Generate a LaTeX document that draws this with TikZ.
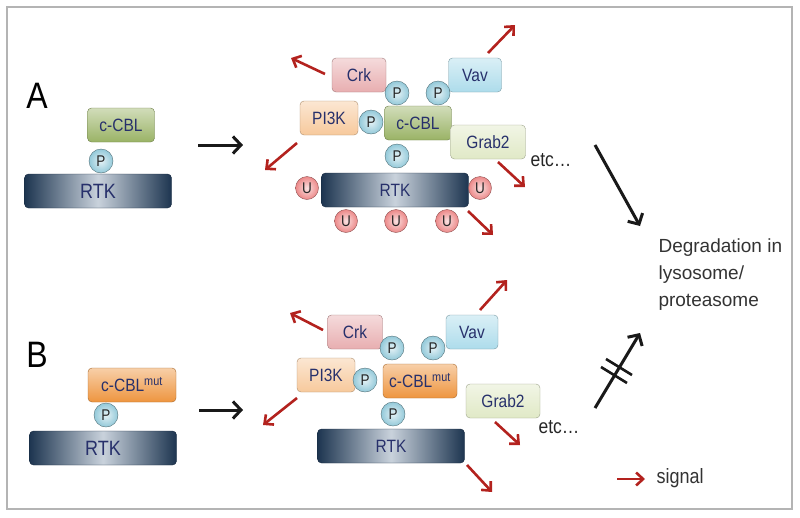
\documentclass[tikz,border=0pt]{standalone}
\usepackage{fontspec}
\setmainfont{Liberation Sans}
\usetikzlibrary{arrows.meta}

\definecolor{cblGreen}{HTML}{9AB366}
\definecolor{crkPink}{HTML}{E8AEB0}
\definecolor{vavBlue}{HTML}{ADDCEB}
\definecolor{piPeach}{HTML}{F7C99C}
\definecolor{grabPale}{HTML}{E0E9C6}
\definecolor{mutOrange}{HTML}{EE953F}
\definecolor{pTeal}{HTML}{93C9D9}
\definecolor{uRed}{HTML}{EC8888}
\definecolor{rtkNavy}{HTML}{1D3550}
\definecolor{rtkLight}{HTML}{C9D2DC}
\definecolor{labelNavy}{HTML}{27306B}
\definecolor{signalRed}{HTML}{B3221E}
\definecolor{frameGray}{HTML}{B4B4B4}

\newcommand{\tallLabel}[1]{\scalebox{1}[1.15]{#1}}

\begin{document}
\begin{tikzpicture}
[x=1pt,y=-1pt,
  boxDecorate/.style={shape=rectangle,rounded corners=4pt,draw=#1!70!black,thin,
    top color=#1!45!white,bottom color=#1,text=labelNavy,
    font=\fontsize{15.5}{17}\selectfont,inner sep=0pt,minimum height=34pt},
  rtkDecorate/.style={shape=rectangle,rounded corners=4pt,draw=rtkNavy!80!black,
    left color=rtkNavy,right color=rtkNavy,middle color=rtkLight,text=labelNavy,
    inner sep=0pt,minimum width=147pt,minimum height=34pt},
  phosDecorate/.style={shape=circle,draw=pTeal!55!black,inner color=pTeal!25!white,
    outer color=pTeal,minimum size=24pt,inner sep=0pt,
    font=\fontsize{13.5}{15}\selectfont,text=black!85},
  ubiqDecorate/.style={shape=circle,draw=uRed!60!black,inner color=uRed!25!white,
    outer color=uRed,minimum size=23pt,inner sep=0pt,
    font=\fontsize{13.5}{15}\selectfont,text=black!85},
  signalDecorate/.style={-{Straight Barb[length=7pt,width=13pt]},line width=2.6pt,
    draw=signalRed},
  flowDecorate/.style={-{Straight Barb[length=8pt,width=17pt]},line width=3pt,
    draw=black!90}]
\useasboundingbox (0,0) rectangle (800,517);
\draw[frameGray,line width=1.8pt] (7,7) rectangle (792,509);
%% panel letters
\node (labA) at (37,96) [font=\fontsize{32}{36}\selectfont] {\tallLabel{A}};
\node (labB) at (37,355) [font=\fontsize{32}{36}\selectfont] {\tallLabel{B}};
%% receptors
\foreach \name/\x/\y/\size in {
  rtkA/98/191/18, rtkA2/395/190/15.5, rtkB/103/448/18, rtkB2/391/446/15.5}
{
  \node (\name) at (\x,\y) [rtkDecorate,font=\fontsize{\size}{20}\selectfont]
    {\tallLabel{RTK}};
}
%% adaptor boxes
\foreach \name/\x/\y/\w/\col/\lbl in {
  %% panel A
  cblA/121/125/67/cblGreen/c-CBL, crkA/359/75/54/crkPink/Crk,
  vavA/475/75/53/vavBlue/Vav, pikA/329/118/58/piPeach/PI3K,
  cblA2/418/123/67/cblGreen/c-CBL, grabA/488/142/75/grabPale/Grab2,
  %% panel B
  cblB/132/385/88/mutOrange/c-CBL\textsuperscript{mut},
  crkB/355/332/55/crkPink/Crk, vavB/472/332/52/vavBlue/Vav,
  pikB/326/375/58/piPeach/PI3K,
  cblB2/420/381/74/mutOrange/c-CBL\textsuperscript{mut},
  grabB/503/401/74/grabPale/Grab2}
{
  \node (\name) at (\x,\y) [boxDecorate=\col,minimum width=\w pt] {\tallLabel{\lbl}};
}
%% phosphate sites
\foreach \name/\x/\y in {
  pA/101/161, pCrkA/397/93, pVavA/438/93, pPikA/371/122, pRtkA/397/156,
  pB/106/415, pCrkB/392/348, pVavB/433/348, pPikB/365/380, pRtkB/393/414}
{
  \node (\name) at (\x,\y) [phosDecorate] {\tallLabel{P}};
}
%% ubiquitin
\foreach \name/\x/\y in {
  uA1/307/188, uA2/480/188, uA3/346/221, uA4/396/221, uA5/447/221}
{
  \node (\name) at (\x,\y) [ubiqDecorate] {\tallLabel{U}};
}
%% texts
\node (etcA) at (551,160) [font=\fontsize{17.5}{20}\selectfont,text=black!85]
  {\tallLabel{etc…}};
\node (etcB) at (559,427) [font=\fontsize{17.5}{20}\selectfont,text=black!85]
  {\tallLabel{etc…}};
\node (degr) at (655,275) [anchor=west,align=left,text=black!80,
  font=\fontsize{19}{27}\selectfont] {Degradation in\\lysosome/\\proteasome};
\node (sigl) at (653,478) [anchor=west,text=black!80,
  font=\fontsize{18}{20}\selectfont] {\tallLabel{signal}};
%% signal arrows
\foreach \name/\sx/\sy/\ex/\ey in {
  crkA/325/74/291/58, vavA/488/53/515/25, pikA/297/143/265/170,
  grabA/498/162/525/187, rtkA/468/211/493/235,
  crkB/323/330/290/313, vavB/480/310/507/280, pikB/297/398/263/425,
  grabB/495/422/520/445, rtkB/467/465/492/492, sigl/617/479/645/479}
{
  \coordinate (\name-s) at (\sx,\sy);
  \coordinate (\name-e) at (\ex,\ey);
  \draw[signalDecorate] (\name-s) -- (\name-e);
}
%% black arrows
\foreach \name/\sx/\sy/\ex/\ey in {
  stepA/198/145/243/145, stepB/199/410/243/410,
  degA/595/145/640/226, degB/595/408/640/333}
{
  \coordinate (\name-s) at (\sx,\sy);
  \coordinate (\name-e) at (\ex,\ey);
  \draw[flowDecorate] (\name-s) -- (\name-e);
}
%% block on B
\draw[line width=2.6pt,black!90] (606,359) -- (632,375);
\draw[line width=2.6pt,black!90] (601,367) -- (627,383);
\end{tikzpicture}
\end{document}
